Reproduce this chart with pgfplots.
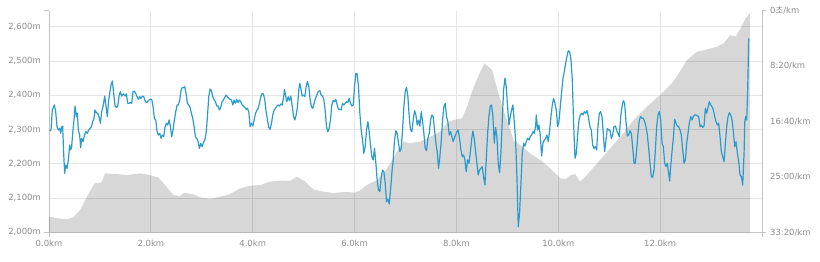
\documentclass[border=0pt]{standalone}
\usepackage{pgfplots}
\pgfplotsset{compat=1.18}
\usepackage{fontspec}
\setmainfont{DejaVu Sans}
\newfontfamily\kr{Noto Sans CJK KR}
\definecolor{lbl}{HTML}{8C8C8C}
\definecolor{gridc}{HTML}{E6E6E6}
\definecolor{axc}{HTML}{C4C4C4}
\definecolor{pace}{HTML}{2A9BCC}
\begin{document}
\begin{tikzpicture}
\useasboundingbox (-49bp,-29.7bp) rectangle (771bp,232.3bp);
\begin{axis}[
 at={(0,0)}, anchor=south west,
 scale only axis, width=713bp, height=221.6bp,
 xmin=0, xmax=14, ymin=2000, ymax=2647,
 axis x line*=bottom, axis y line*=left,
 axis line style={axc, line width=0.8bp, -},
 tick style={axc, line width=0.8bp},
 xtick={0,2,4,6,8,10,12},
 xticklabels={0.0km,2.0km,4.0km,6.0km,8.0km,10.0km,12.0km},
 ytick={2000,2100,2200,2300,2400,2500,2600},
 yticklabels={{2,000m},{2,100m},{2,200m},{2,300m},{2,400m},{2,500m},{2,600m}},
 xmajorgrids, ymajorgrids, grid style={gridc, line width=0.8bp},
 major tick length=0pt,
 extra x ticks={0,14}, extra x tick labels={},
 extra x tick style={grid=none, major tick length=5bp, tick align=outside},
 extra y ticks={2000,2647}, extra y tick labels={},
 extra y tick style={grid=none, major tick length=5bp, tick align=outside},
 tick label style={font=\fontsize{8.5}{10}\selectfont, text=lbl, inner sep=0pt},
 yticklabel style={xshift=-8bp},
 xticklabel style={yshift=-8bp},
]
\addplot[draw=none, fill=black, fill opacity=0.155] coordinates {
(0,2000)(0,2046)(0.15,2041)(0.35,2038)(0.48,2044)(0.61,2065)(0.71,2094)(0.80,2119)(0.90,2143)(1.03,2145)(1.10,2172)(1.33,2170)(1.53,2167)(1.79,2172)(1.98,2167)(2.15,2160)(2.28,2138)(2.44,2109)(2.57,2106)(2.67,2116)(2.87,2109)(2.97,2102)(3.16,2098)(3.36,2104)(3.56,2112)(3.75,2128)(3.95,2136)(4.15,2138)(4.34,2148)(4.54,2151)(4.73,2150)(4.87,2162)(5.03,2148)(5.19,2125)(5.39,2119)(5.59,2114)(5.78,2118)(6.01,2116)(6.11,2122)(6.24,2138)(6.44,2153)(6.57,2172)(6.70,2201)(6.83,2235)(6.96,2265)(7.09,2260)(7.29,2265)(7.49,2279)(7.68,2294)(7.81,2318)(7.94,2328)(8.11,2333)(8.21,2367)(8.34,2425)(8.47,2469)(8.55,2493)(8.63,2483)(8.70,2474)(8.79,2425)(8.92,2357)(9.06,2299)(9.12,2269)(9.25,2255)(9.45,2230)(9.65,2211)(9.84,2187)(10.04,2158)(10.14,2155)(10.24,2167)(10.33,2170)(10.43,2148)(10.56,2167)(10.76,2201)(10.96,2235)(11.22,2279)(11.48,2328)(11.74,2367)(12.00,2401)(12.26,2440)(12.53,2503)(12.72,2527)(12.92,2534)(13.12,2542)(13.25,2552)(13.38,2576)(13.48,2571)(13.58,2595)(13.68,2625)(13.76,2639)(13.76,2000)
} \closedcycle;
\end{axis}
\begin{axis}[
 at={(0,0)}, anchor=south west,
 scale only axis, width=713bp, height=221.6bp,
 xmin=0, xmax=14, ymin=0, ymax=2000, y dir=reverse,
 axis x line=none, axis y line*=right,
 axis line style={axc, line width=0.8bp, -},
 tick style={axc, line width=0.8bp},
 ytick={0,500,1000,1500,2000},
 yticklabels={{0{\kr 초}/km},{8:20/km},{16:40/km},{25:00/km},{33:20/km}},
 major tick length=0pt,
 extra y ticks={0,2000}, extra y tick labels={},
 extra y tick style={major tick length=4bp, tick align=outside},
 tick label style={font=\fontsize{8.5}{10}\selectfont, text=lbl, inner sep=0pt},
 yticklabel style={xshift=8bp},
]
\addplot[pace, line width=1.2bp, line join=round] coordinates {
(0.013,1086)(0.039,1077)(0.065,896)(0.105,851)(0.131,911)(0.157,1047)(0.183,1077)(0.210,1062)(0.229,1107)(0.249,1047)(0.268,1041)(0.288,1287)(0.308,1468)(0.327,1393)(0.354,1423)(0.380,1347)(0.406,1212)(0.426,1257)(0.445,1227)(0.465,1107)(0.491,986)(0.511,860)(0.537,956)(0.557,926)(0.576,1077)(0.602,1122)(0.622,1236)(0.642,1152)(0.668,1182)(0.694,1131)(0.720,1092)(0.753,1107)(0.779,1077)(0.806,1062)(0.832,1047)(0.858,1001)(0.884,971)(0.904,896)(0.930,920)(0.956,926)(0.982,956)(1.009,1016)(1.035,911)(1.067,851)(1.094,770)(1.120,866)(1.146,956)(1.166,836)(1.192,746)(1.218,671)(1.244,634)(1.270,746)(1.297,860)(1.323,872)(1.349,866)(1.375,770)(1.401,731)(1.428,770)(1.460,752)(1.493,770)(1.519,752)(1.546,836)(1.572,836)(1.598,830)(1.624,836)(1.650,731)(1.676,725)(1.703,746)(1.729,776)(1.755,800)(1.781,776)(1.807,791)(1.834,770)(1.860,776)(1.886,812)(1.912,830)(1.938,821)(1.965,806)(1.991,800)(2.017,800)(2.043,866)(2.069,971)(2.096,986)(2.122,1092)(2.148,1122)(2.174,1107)(2.200,1152)(2.227,1122)(2.253,1137)(2.279,1047)(2.305,1016)(2.331,1032)(2.358,986)(2.384,1047)(2.410,1137)(2.436,1077)(2.462,986)(2.489,911)(2.515,851)(2.541,851)(2.567,806)(2.593,716)(2.620,692)
(2.639,695)(2.665,686)(2.691,746)(2.718,836)(2.744,851)(2.770,872)(2.796,926)(2.823,971)(2.849,1047)(2.875,1137)(2.901,1152)(2.927,1182)(2.954,1242)(2.980,1197)(3.006,1227)(3.032,1191)(3.058,1167)(3.085,1107)(3.111,956)(3.137,776)(3.163,707)(3.189,722)(3.216,776)(3.242,806)(3.268,821)(3.294,860)(3.320,860)(3.347,896)(3.373,872)(3.399,821)(3.425,806)(3.451,782)(3.478,761)(3.504,776)(3.530,791)(3.556,800)(3.582,806)(3.609,851)(3.635,806)(3.661,836)(3.687,800)(3.713,830)(3.740,806)(3.766,821)(3.792,851)(3.818,860)(3.844,872)(3.871,890)(3.897,881)(3.923,911)(3.949,1047)(3.975,1016)(4.002,1041)(4.028,986)(4.054,926)(4.080,902)(4.106,881)(4.132,836)(4.159,776)(4.185,746)(4.211,752)(4.237,806)(4.263,911)(4.290,986)(4.316,1053)(4.342,1071)(4.368,1016)(4.394,941)(4.421,896)(4.447,881)(4.473,860)(4.499,851)(4.525,860)(4.552,842)(4.578,851)(4.604,791)(4.624,710)(4.643,761)(4.670,821)(4.696,776)(4.722,812)(4.748,770)(4.774,851)(4.801,956)(4.827,986)(4.853,941)(4.879,866)(4.905,716)(4.925,656)(4.945,701)(4.971,770)(4.997,761)(5.023,776)(5.049,686)(5.075,640)(5.101,686)(5.128,806)(5.154,866)(5.180,881)(5.206,836)(5.232,791)(5.259,761)(5.285,731)
(5.318,722)(5.344,761)(5.370,770)(5.396,800)(5.422,896)(5.449,1047)(5.475,1092)(5.501,1062)(5.527,986)(5.553,851)(5.580,812)(5.606,821)(5.632,800)(5.658,851)(5.684,890)(5.711,890)(5.737,896)(5.763,836)(5.789,851)(5.815,836)(5.842,821)(5.868,830)(5.894,791)(5.920,836)(5.946,860)(5.973,851)(5.999,686)(6.025,565)(6.051,571)(6.077,686)(6.104,926)(6.130,1077)(6.156,1167)(6.182,1287)(6.208,1227)(6.235,1077)(6.261,1001)(6.287,1092)(6.313,1212)(6.339,1317)(6.365,1347)(6.392,1242)(6.418,1377)(6.444,1528)(6.470,1618)(6.496,1633)(6.523,1498)(6.549,1438)(6.575,1453)(6.601,1558)(6.627,1723)(6.654,1702)(6.680,1744)(6.706,1618)(6.732,1468)(6.758,1347)(6.785,1167)(6.811,1083)(6.837,1107)(6.863,1197)(6.889,1272)(6.916,1242)(6.942,1077)(6.968,866)(6.994,731)(7.020,692)(7.047,776)(7.073,956)(7.099,1077)(7.125,1092)(7.151,986)(7.178,902)(7.204,941)(7.230,1032)(7.256,986)(7.282,1041)(7.309,911)(7.335,1001)(7.361,1107)(7.387,1242)(7.413,1263)(7.440,1152)(7.466,1107)(7.492,986)(7.518,941)(7.544,956)(7.571,1077)(7.597,1197)(7.623,1272)(7.649,1423)(7.675,1317)(7.701,1182)(7.728,986)(7.754,866)(7.780,836)(7.806,956)(7.832,1001)(7.859,1122)(7.885,1092)(7.911,1137)(7.937,1182)
(7.957,1152)(7.983,1122)(8.009,1092)(8.035,1077)(8.061,1152)(8.088,1257)(8.114,1317)(8.140,1302)(8.166,1347)(8.192,1453)(8.219,1347)(8.245,1377)(8.271,1287)(8.297,1167)(8.323,1086)(8.350,1152)(8.376,1272)(8.402,1377)(8.428,1483)(8.454,1438)(8.481,1423)(8.507,1408)(8.533,1498)(8.559,1573)(8.585,1347)(8.612,1107)(8.638,956)(8.664,860)(8.690,851)(8.716,956)(8.743,1197)(8.769,1053)(8.795,1137)(8.821,1377)(8.847,1462)(8.874,1287)(8.900,986)(8.926,716)(8.952,610)(8.978,686)(9.005,866)(9.031,1032)(9.057,956)(9.083,896)(9.109,851)(9.136,1001)(9.162,1167)(9.188,1498)(9.214,1949)(9.240,1829)(9.267,1558)(9.293,1287)(9.319,1197)(9.345,1221)(9.371,1182)(9.398,1152)(9.424,1167)(9.450,1137)(9.476,1122)(9.502,1092)(9.528,1107)(9.555,1041)(9.568,941)(9.594,1077)(9.620,1032)(9.646,1122)(9.673,1311)(9.699,1197)(9.725,1167)(9.751,1152)(9.777,1122)(9.804,1182)(9.830,1077)(9.856,956)(9.882,851)(9.908,791)(9.935,836)(9.961,896)(9.987,1047)(10.013,1001)(10.039,866)(10.066,731)(10.092,610)(10.118,550)(10.144,475)(10.170,415)(10.197,361)(10.223,370)(10.249,445)(10.275,625)(10.301,1016)(10.328,1332)(10.354,1287)(10.380,1122)(10.406,986)(10.432,941)(10.459,926)(10.485,941)(10.511,911)(10.537,926)(10.563,902)(10.590,956)
(10.622,1047)(10.648,1077)(10.675,1212)(10.701,1242)(10.727,1227)(10.753,1257)(10.779,1047)(10.806,926)(10.832,911)(10.858,956)(10.884,1107)(10.910,1272)(10.937,1167)(10.963,1062)(10.989,1077)(11.015,1077)(11.041,1152)(11.067,1122)(11.094,1047)(11.120,1041)(11.146,1077)(11.172,1107)(11.198,1137)(11.225,956)(11.251,866)(11.277,812)(11.303,836)(11.329,1001)(11.356,1131)(11.382,1122)(11.408,1083)(11.434,1107)(11.460,1227)(11.487,1377)(11.513,1377)(11.539,1257)(11.565,1107)(11.591,986)(11.618,956)(11.644,971)(11.670,971)(11.696,1001)(11.722,1047)(11.749,1122)(11.775,1242)(11.801,1377)(11.827,1498)(11.853,1504)(11.880,1438)(11.906,1257)(11.932,1047)(11.958,941)(11.984,911)(12.011,986)(12.037,1197)(12.063,1227)(12.089,1377)(12.115,1408)(12.142,1377)(12.168,1474)(12.187,1537)(12.207,1408)(12.233,1272)(12.259,1152)(12.285,980)(12.312,1016)(12.338,1041)(12.364,1047)(12.390,1077)(12.416,1122)(12.443,1257)(12.469,1377)(12.495,1347)(12.521,1197)(12.547,1107)(12.573,1016)(12.600,956)(12.626,986)(12.652,956)(12.678,941)(12.704,941)(12.731,950)(12.757,956)(12.783,1047)(12.809,1032)(12.835,1053)(12.862,1041)(12.888,881)(12.914,926)(12.940,872)(12.966,821)(12.993,851)(13.019,866)(13.045,896)(13.071,956)(13.097,1001)(13.124,1032)(13.150,1016)(13.176,1137)(13.202,1272)(13.228,1317)(13.255,1362)(13.281,1197)(13.307,1047)(13.333,956)(13.359,920)(13.386,941)(13.412,986)(13.438,1092)(13.464,1227)(13.490,1182)(13.517,1287)(13.543,1362)(13.569,1483)(13.595,1498)(13.621,1573)(13.648,1287)(13.661,1001)(13.680,956)(13.700,986)(13.720,686)(13.739,249)
};
\end{axis}
\end{tikzpicture}
\end{document}
